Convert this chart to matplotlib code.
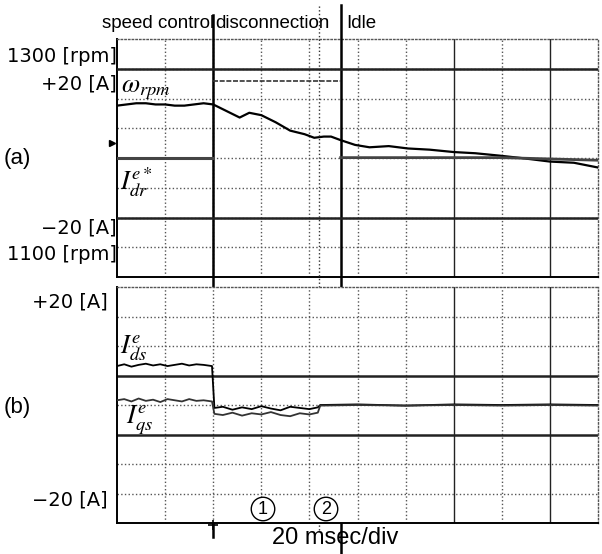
import matplotlib.pyplot as plt

plt.rcParams['font.family'] = ['Liberation Sans', 'DejaVu Sans', 'Noto Sans CJK SC']
plt.rcParams['mathtext.fontset'] = 'stix'

# temps (ms) et vitesse (rpm) -- panneau (a)
t_speed = [0, 4, 8, 12, 16, 20, 24, 28, 32, 36, 40, 44, 47, 51, 55, 60, 66, 72,
           78, 82, 86, 89, 93, 99, 105, 113, 121, 130, 140, 149, 159, 168, 180, 190, 200]
speed = [1244, 1245, 1246, 1246, 1245, 1245, 1244, 1244, 1245, 1246, 1245, 1241,
         1238, 1234, 1238, 1236, 1230, 1223, 1220, 1217, 1218, 1218, 1215, 1211,
         1209, 1210, 1208, 1207, 1205, 1204, 1202, 1200, 1197, 1196, 1192]

# courant rotor de reference Idr* (A)
t_idr = [0, 40, 40, 93, 93, 160, 200]
idr = [-4.0, -4.0, 16.7, 16.7, -3.9, -3.9, -4.6]

# courants stator Ids, Iqs (A) -- panneau (b)
t_cur = [0, 3, 6, 9, 12, 15, 18, 21, 24, 27, 30, 33, 36, 39.5,
         40.5, 44, 48, 52, 56, 60, 64, 68, 72, 76, 80, 83.5,
         84.5, 100, 120, 140, 160, 180, 200]
ids = [6.6, 6.9, 6.5, 6.8, 7.0, 6.7, 6.9, 6.6, 6.8, 7.0, 6.7, 6.9, 6.8, 6.6,
       -0.5, -0.3, -0.8, -0.4, -0.7, -0.2, -0.6, -0.9, -0.3, -0.5, -0.7, -0.4,
       0.0, 0.1, -0.1, 0.1, 0.0, 0.1, 0.0]
iqs = [0.8, 1.0, 0.6, 1.1, 0.7, 0.9, 0.5, 1.0, 0.8, 0.6, 1.0, 0.7, 0.8, 0.6,
       -1.5, -1.7, -1.3, -1.8, -1.4, -1.6, -1.2, -1.7, -1.9, -1.4, -1.6, -1.3,
       -0.1, 0.0, -0.1, 0.0, -0.1, 0.0, -0.1]

W, H = 602, 554
fig = plt.figure(figsize=(W / 100, H / 100), dpi=100)


def px(x, y):
    return x / W, 1 - y / H


ax1 = fig.add_axes([117 / W, 1 - 277 / H, 481 / W, 238 / H])
ax2 = fig.add_axes([117 / W, 1 - 523 / H, 481 / W, 236 / H])

for ax in (ax1, ax2):
    ax.set_xlim(0, 200)
    ax.set_xticks([])
    ax.set_yticks([])
    for s in ('top', 'right'):
        ax.spines[s].set_linestyle(':')
        ax.spines[s].set_color('#555555')
        ax.spines[s].set_linewidth(1)
    for s in ('left', 'bottom'):
        ax.spines[s].set_linewidth(1.4)
    for xg in range(20, 200, 20):
        dark = xg in (140, 180)
        ax.axvline(xg, color='#222222' if dark else '#555555',
                   ls='-' if dark else ':', lw=1.0, zorder=1)

ax1.set_ylim(1100, 1300)
for yg in range(1125, 1300, 25):
    ax1.axhline(yg, color='#555555', ls=':', lw=1.0, zorder=1)

ax1b = ax1.twinx()
ax1b.set_ylim(-36, 28)
ax1b.set_yticks([])
ax1b.axis('off')
for yy in (20, -20):
    ax1b.axhline(yy, color='#222222', lw=1.8, zorder=1)

ax2.set_ylim(-20, 20)
for yg in range(-15, 20, 5):
    if yg in (5, -5):
        ax2.axhline(yg, color='#222222', lw=1.8, zorder=1)
    else:
        ax2.axhline(yg, color='#555555', ls=':', lw=1.0, zorder=1)

# traces
ax1.plot(t_speed, speed, color='black', lw=1.6, zorder=3)
ax1b.plot(t_idr[:2], idr[:2], color='#444444', lw=2.2, zorder=3)
ax1b.plot(t_idr[2:4], idr[2:4], color='#333333', lw=1.2, ls=(0, (3, 1)), zorder=3)
ax1b.plot(t_idr[4:], idr[4:], color='#444444', lw=2.0, zorder=3)
ax2.plot(t_cur, ids, color='black', lw=1.3, zorder=3)
ax2.plot(t_cur, iqs, color='#333333', lw=1.3, zorder=3)

# marqueurs de masse
ax1b.plot([-2], [0], marker='>', ms=4, color='black', clip_on=False)
ax2.plot([40], [-20.3], marker='+', ms=7, mew=1.2, color='black', clip_on=False, zorder=6)

# lignes d'evenements
ax1.axvline(40, ymin=-1.092, ymax=1.101, color='black', lw=1.8, clip_on=False, zorder=5)
ax1.axvline(93, ymin=-1.164, ymax=1.143, color='black', lw=1.8, clip_on=False, zorder=5)
ax1.axvline(84, ymin=-1.063, ymax=1.143, color='#333333', lw=1.0, ls=':', clip_on=False, zorder=5)

# textes
fs = 13.5
side = ['DejaVu Sans']
fig.text(*px(158, 23), 'speed control', ha='center', va='center', fontsize=fs)
fig.text(*px(272, 23), 'disconnection', ha='center', va='center', fontsize=fs)
fig.text(*px(346, 23), 'Idle', ha='left', va='center', fontsize=fs)
fig.text(*px(117, 57), '1300 [rpm]', ha='right', va='center', fontsize=14, family=side)
fig.text(*px(117, 84), '+20 [A]', ha='right', va='center', fontsize=14, family=side)
fig.text(*px(117, 228), '\u221220 [A]', ha='right', va='center', fontsize=14, family=side)
fig.text(*px(117, 255), '1100 [rpm]', ha='right', va='center', fontsize=14, family=side)
fig.text(*px(4, 158), '(a)', ha='left', va='center', fontsize=16)
fig.text(*px(108, 302), '+20 [A]', ha='right', va='center', fontsize=14, family=side)
fig.text(*px(108, 500), '\u221220 [A]', ha='right', va='center', fontsize=14, family=side)
fig.text(*px(4, 407), '(b)', ha='left', va='center', fontsize=16)
fig.text(*px(335, 538), '20 msec/div', ha='center', va='center', fontsize=17)

fig.text(*px(121, 90), r'$\omega_{rpm}$', ha='left', va='center', fontsize=19)
fig.text(*px(120, 182), r'$I_{dr}^{e*}$', ha='left', va='center', fontsize=19)
fig.text(*px(120, 348), r'$I_{ds}^{e}$', ha='left', va='center', fontsize=19)
fig.text(*px(126, 420), r'$I_{qs}^{e}$', ha='left', va='center', fontsize=19)

fig.text(*px(263, 509), '1', ha='center', va='center', fontsize=13,
         bbox=dict(boxstyle='circle,pad=0.18', fc='white', ec='black', lw=1.0))
fig.text(*px(326, 509), '2', ha='center', va='center', fontsize=13,
         bbox=dict(boxstyle='circle,pad=0.18', fc='none', ec='black', lw=1.0))

fig.savefig('out.png', dpi=100)
